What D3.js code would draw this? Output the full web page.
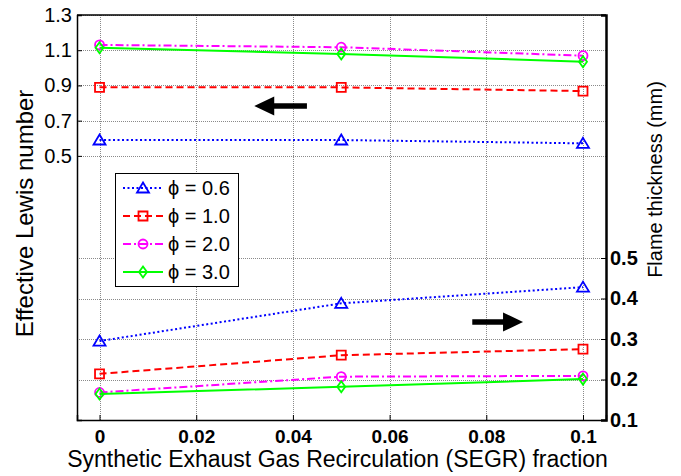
<!DOCTYPE html>
<html><head><meta charset="utf-8">
<script src="https://cdn.jsdelivr.net/npm/d3@7"></script>
<style>body{margin:0;background:#fff} svg{display:block;font-family:"Liberation Sans",Arial,sans-serif}</style>
</head><body><svg id="c" width="681" height="476"></svg>
<script>
// ---- data ----
const segr = [0, 0.05, 0.1];
const seriesNames = ["\u03d5 = 0.6", "\u03d5 = 1.0", "\u03d5 = 2.0", "\u03d5 = 3.0"];
const lewis06 = [0.590, 0.590, 0.571];
const lewis10 = [0.889, 0.889, 0.868];
const lewis20 = [1.130, 1.117, 1.069];
const lewis30 = [1.114, 1.079, 1.035];
const thick06 = [0.295, 0.388, 0.428];
const thick10 = [0.214, 0.260, 0.275];
const thick20 = [0.168, 0.207, 0.209];
const thick30 = [0.164, 0.182, 0.201];
const xTicks = [0, 0.02, 0.04, 0.06, 0.08, 0.1];
const xTickLabels = ["0", "0.02", "0.04", "0.06", "0.08", "0.1"];
const leftTicks = [0.5, 0.7, 0.9, 1.1, 1.3];
const rightTicks = [0.1, 0.2, 0.3, 0.4, 0.5];
const xTitle = "Synthetic Exhaust Gas Recirculation (SEGR) fraction";
const yLeftTitle = "Effective Lewis number";
const yRightTitle = "Flame thickness (mm)";
// arrow annotations: [x start, x end, y] (data coords; arrow head at x end)
const arrowLeft = [0.0429, 0.0320, 0.783];   // left axis
const arrowRight = [0.0771, 0.0876, 0.342];  // right axis

// ---- styles ----
const colors = ["#0000ff", "#ff0000", "#ff00ff", "#00ff00"];
const dashes = ["2,2.5", "7,4", "8,3,2,3", null];
const markers = ["tri", "sq", "circ", "diam"];

const svg = d3.select("#c");
const L = 77, R = 606, T = 15, B = 420;
const x = d3.scaleLinear().domain([-0.00466, 0.10476]).range([L, R]);
const yL = d3.scaleLinear().domain([-1, 1.3]).range([B, T]);
const yR = d3.scaleLinear().domain([0.1, 1.1]).range([B, T]);

// grid
const grid = svg.append("g").attr("stroke", "#8a8a8a").attr("stroke-width", 1).attr("stroke-dasharray", "1,1");
xTicks.forEach(t => grid.append("line").attr("x1", Math.round(x(t)) + 0.5).attr("x2", Math.round(x(t)) + 0.5).attr("y1", T).attr("y2", B));
leftTicks.forEach(t => grid.append("line").attr("x1", L).attr("x2", R).attr("y1", Math.round(yL(t)) + 0.5).attr("y2", Math.round(yL(t)) + 0.5));
rightTicks.forEach(t => grid.append("line").attr("x1", L).attr("x2", R).attr("y1", Math.round(yR(t)) + 0.5).attr("y2", Math.round(yR(t)) + 0.5));

function markerPath(type, cx, cy) {
  switch (type) {
    case "tri": return `M${cx},${cy - 5.5}L${cx + 6},${cy + 4.5}L${cx - 6},${cy + 4.5}Z`;
    case "sq": return `M${cx - 4.5},${cy - 4.5}h9v9h-9Z`;
    case "circ": return `M${cx + 4.5},${cy}A4.5,4.5 0 1,1 ${cx - 4.5},${cy}A4.5,4.5 0 1,1 ${cx + 4.5},${cy}Z`;
    case "diam": return `M${cx},${cy - 5.5}L${cx + 4},${cy}L${cx},${cy + 5.5}L${cx - 4},${cy}Z`;
  }
}

const lewis = [lewis06, lewis10, lewis20, lewis30];
const thick = [thick06, thick10, thick20, thick30];

function drawSeries(vals, yScale, i) {
  const g = svg.append("g");
  const line = d3.line().x((d, j) => x(segr[j])).y(d => yScale(d));
  g.append("path").attr("d", line(vals)).attr("fill", "none")
    .attr("stroke", colors[i]).attr("stroke-width", 2)
    .attr("stroke-dasharray", dashes[i]);
  vals.forEach((v, j) => g.append("path").attr("d", markerPath(markers[i], x(segr[j]), yScale(v)))
    .attr("fill", "none").attr("stroke", colors[i]).attr("stroke-width", 1.8));
}
[0, 1, 2, 3].forEach(i => drawSeries(lewis[i], yL, i));
[0, 1, 2, 3].forEach(i => drawSeries(thick[i], yR, i));

// axes
const axL = svg.append("g").attr("transform", `translate(${L},0)`)
  .call(d3.axisLeft(yL).tickValues(leftTicks).tickSize(-5).tickPadding(5).tickFormat(d3.format(".1f")));
axL.select(".domain").attr("stroke-width", 1.5);
axL.selectAll("text").attr("font-size", 20).attr("fill", "#000").attr("font-family", "Liberation Sans, Arial, sans-serif");

const axR = svg.append("g").attr("transform", `translate(${R},0)`)
  .call(d3.axisRight(yR).tickValues(rightTicks).tickSize(-5).tickPadding(4).tickFormat(d3.format(".1f")));
axR.select(".domain").attr("stroke-width", 2.5);
axR.selectAll("text").attr("font-size", 20).attr("font-weight", "bold").attr("fill", "#000").attr("font-family", "Liberation Sans, Arial, sans-serif");

const axB = svg.append("g").attr("transform", `translate(0,${B})`)
  .call(d3.axisBottom(x).tickValues(xTicks).tickSize(-5).tickPadding(10).tickFormat((d, i) => xTickLabels[i]));
axB.select(".domain").attr("stroke-width", 1.5);
axB.selectAll("text").attr("font-size", 19).attr("font-weight", "bold").attr("fill", "#000").attr("font-family", "Liberation Sans, Arial, sans-serif");
[axL, axR, axB].forEach(a => a.selectAll(".tick line").attr("stroke", "#000"));

svg.append("line").attr("x1", L).attr("x2", R).attr("y1", T).attr("y2", T).attr("stroke", "#000").attr("stroke-width", 1.5);

// titles
svg.append("text").attr("x", (L + R) / 2 - 4).attr("y", 467).attr("text-anchor", "middle")
  .attr("font-size", 23).text(xTitle);
svg.append("text").attr("transform", `translate(33,${(T + B) / 2 - 4}) rotate(-90)`).attr("text-anchor", "middle")
  .attr("font-size", 24).text(yLeftTitle);
svg.append("text").attr("transform", `translate(662,${(T + B) / 2 - 38}) rotate(-90)`).attr("text-anchor", "middle")
  .attr("font-size", 20).text(yRightTitle);

// arrows
function arrow(a, yScale) {
  const x0 = x(a[0]), x1 = x(a[1]), yy = yScale(a[2]);
  const dir = Math.sign(x1 - x0), hl = 20, hh = 9.5, sw = 2.8;
  const xb = x1 - dir * hl;
  svg.append("path").attr("fill", "#000")
    .attr("d", `M${x0},${yy - sw}L${xb},${yy - sw}L${xb},${yy - hh}L${x1},${yy}L${xb},${yy + hh}L${xb},${yy + sw}L${x0},${yy + sw}Z`);
}
arrow(arrowLeft, yL);
arrow(arrowRight, yR);

// legend
const lg = svg.append("g");
lg.append("rect").attr("x", 115.5).attr("y", 173.5).attr("width", 123).attr("height", 113)
  .attr("fill", "#fff").attr("stroke", "#000").attr("stroke-width", 1);
seriesNames.forEach((name, i) => {
  const yy = 188 + i * 28;
  lg.append("line").attr("x1", 123).attr("x2", 163).attr("y1", yy).attr("y2", yy)
    .attr("stroke", colors[i]).attr("stroke-width", 2).attr("stroke-dasharray", dashes[i]);
  lg.append("path").attr("d", markerPath(markers[i], 143, yy)).attr("fill", "none")
    .attr("stroke", colors[i]).attr("stroke-width", 1.8);
  lg.append("text").attr("x", 168).attr("y", yy + 7).attr("font-size", 20).text(name);
});
</script></body></html>
